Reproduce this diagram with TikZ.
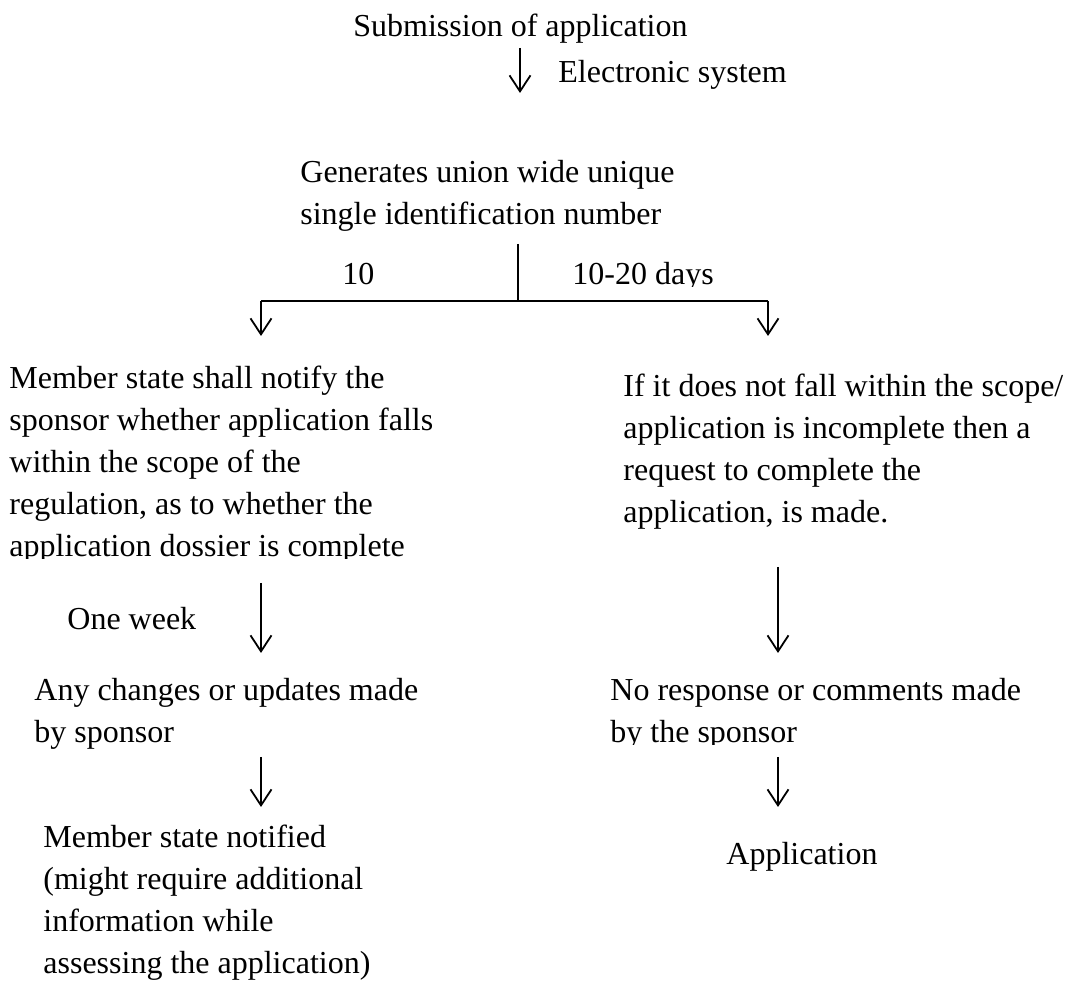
\documentclass[tikz,border=0pt]{standalone}
\usepackage{fontspec}
\setmainfont{Liberation Serif}
\usetikzlibrary{arrows.meta}
\begin{document}
\begin{tikzpicture}[x=0.5pt,y=-0.5pt,
  txt/.style={anchor=base west,inner sep=0pt,align=left,font=\fontsize{16}{21}\selectfont},
  arr/.style={line width=0.9pt,-{Straight Barb[length=8pt,width=10.5pt,line width=0.9pt]}},
  ln/.style={line width=0.6pt}]
\useasboundingbox (0,0) rectangle (1067,983);
% texts (anchor = baseline of the last line)
\node[txt] (sub) at (353,37) {Submission of application};
\node[txt] (elec) at (558,83) {Electronic system};
\node[txt] (gen) at (300,225) {Generates union wide unique\\single identification number};
\node[txt] (ten) at (342,285) {10};
\begin{scope}
  \clip (560,240) rectangle (760,287);
  \node[txt] (tentw) at (572,285) {10-20 days};
\end{scope}
\begin{scope}
  \clip (0,350) rectangle (500,559);
  \node[txt] (ms) at (9,557) {Member state shall notify the\\sponsor whether application falls\\within the scope of the\\regulation, as to whether the\\application dossier is complete};
\end{scope}
\node[txt] (inc) at (623,523) {If it does not fall within the scope/\\application is incomplete then a\\request to complete the\\application, is made.};
\node[txt] (week) at (67,630) {One week};
\node[txt] (chg) at (34,743) {Any changes or updates made\\by sponsor};
\begin{scope}
  \clip (600,660) rectangle (1067,745);
  \node[txt] (nor) at (610,743) {No response or comments made\\by the sponsor};
\end{scope}
\node[txt] (notif) at (43,974) {Member state notified\\(might require additional\\information while\\assessing the application)};
\node[txt] (app) at (726,865) {Application};
% connector points
\coordinate (a1s) at (520,48);  \coordinate (a1e) at (520,93);
\coordinate (vt) at (518,244);  \coordinate (vb) at (518,301);
\coordinate (hl) at (261,301);  \coordinate (hr) at (768,301);
\coordinate (al) at (261,336);  \coordinate (ar) at (768,336);
\coordinate (l1s) at (261,583); \coordinate (l1e) at (261,653);
\coordinate (l2s) at (261,757); \coordinate (l2e) at (261,807);
\coordinate (r1s) at (778,567); \coordinate (r1e) at (778,653);
\coordinate (r2s) at (778,757); \coordinate (r2e) at (778,807);
% connectors
\draw[arr] (a1s) -- (a1e);
\draw[ln] (vt) -- (vb);
\draw[ln] (hl) -- (hr);
\draw[arr] (hl) -- (al);
\draw[arr] (hr) -- (ar);
\draw[arr] (l1s) -- (l1e);
\draw[arr] (l2s) -- (l2e);
\draw[arr] (r1s) -- (r1e);
\draw[arr] (r2s) -- (r2e);
\end{tikzpicture}
\end{document}
